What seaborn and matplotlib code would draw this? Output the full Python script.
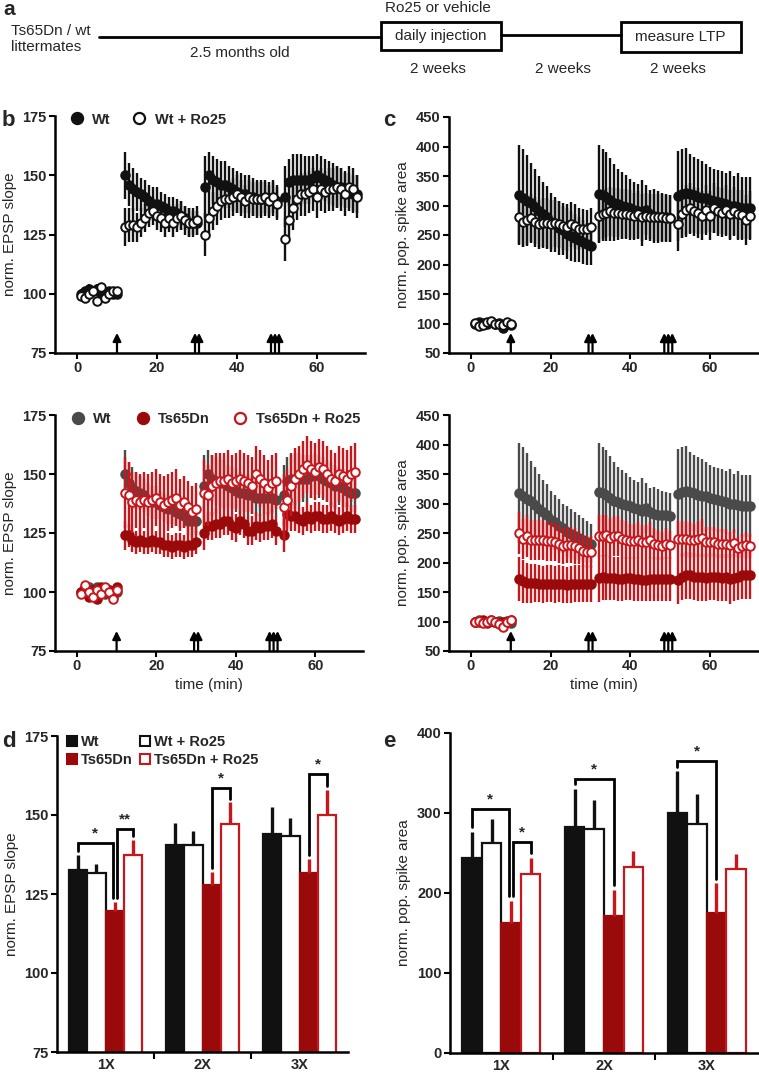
import numpy as np
import pandas as pd
import matplotlib
matplotlib.use("Agg")
import matplotlib.pyplot as plt
import seaborn as sns
from matplotlib.lines import Line2D
from matplotlib.patches import Patch, Rectangle

sns.set_theme(style="ticks")
plt.rcParams['font.family'] = ['Liberation Sans', 'DejaVu Sans']

# ---------------- data ----------------
t_base = list(range(1, 11))
t_post = list(range(12, 31)) + list(range(32, 51)) + list(range(52, 71))
time = t_base + t_post
arrow_times = [10, 29.5, 30.5, 48.5, 49.5, 50.5]

# EPSP slope (panel b)
epsp_wt = [100, 101, 102, 101, 102, 100, 99, 101, 100, 100,
           150, 146, 144, 143, 142, 141, 139, 138, 138, 137, 136, 135, 135, 134, 133, 132, 130, 130, 130,
           145, 150, 148, 147, 146, 146, 145, 144, 143, 142, 142, 141, 141, 140, 140, 140, 140, 140, 139,
           141, 147, 148, 148, 148, 148, 148, 149, 150, 149, 148, 147, 146, 145, 145, 144, 143, 142, 142]
epsp_wt_err = [2, 2, 2, 2, 2, 2, 2, 2, 2, 2,
               10, 9, 9, 8, 7, 7, 7, 7, 7, 6, 6, 6, 6, 6, 6, 5, 6, 5, 5,
               13, 10, 10, 10, 10, 10, 9, 9, 9, 9, 8, 9, 8, 8, 8, 7, 7, 7, 7,
               13, 10, 11, 11, 11, 10, 10, 9, 9, 9, 9, 9, 9, 9, 8, 8, 8, 8, 8]
epsp_wtro = [99, 98, 100, 101, 97, 103, 98, 100, 101, 101,
             128, 129, 129, 128, 130, 132, 134, 135, 133, 132, 130, 132, 130, 132, 133, 131, 130, 130, 131,
             125, 132, 135, 137, 139, 140, 140, 141, 142, 141, 139, 141, 140, 140, 140, 141, 139, 141, 138,
             123, 131, 136, 140, 142, 142, 143, 144, 141, 144, 143, 144, 144, 145, 144, 142, 145, 144, 141]
epsp_wtro_err = [1.5, 1.5, 1.5, 1.5, 1.5, 1.5, 1.5, 1.5, 1.5, 1.5,
                 8, 7, 7, 6, 6, 6, 6, 6, 6, 6, 6, 6, 6, 6, 6, 6, 6, 6, 6,
                 9, 8, 8, 8, 8, 8, 8, 8, 8, 7, 7, 7, 7, 7, 7, 7, 7, 7, 7,
                 9, 9, 9, 9, 9, 9, 9, 9, 9, 9, 9, 9, 9, 9, 9, 9, 9, 9, 9]
epsp_ts = [100, 102, 98, 101, 97, 102, 100, 101, 98, 102,
           124, 124, 122, 121, 122, 121, 121, 122, 121, 121, 120, 120, 119, 120, 120, 119, 120, 120, 121,
           125, 128, 128, 129, 129, 130, 130, 128, 127, 130, 129, 126, 126, 128, 127, 128, 128, 129, 126,
           124, 133, 132, 132, 131, 130, 132, 131, 132, 132, 131, 131, 132, 131, 130, 131, 132, 131, 131]
epsp_ts_err = [1.5, 1.5, 1.5, 1.5, 1.5, 1.5, 1.5, 1.5, 1.5, 1.5,
               6, 5, 5, 5, 5, 5, 5, 5, 5, 5, 5, 5, 5, 5, 5, 5, 5, 5, 5,
               7, 6, 6, 6, 6, 6, 6, 6, 6, 6, 6, 6, 6, 6, 6, 6, 6, 6, 6,
               7, 6, 6, 6, 6, 6, 6, 6, 6, 6, 6, 6, 6, 6, 6, 6, 6, 6, 6]
epsp_tsro = [99, 103, 100, 98, 101, 99, 102, 100, 97, 101,
             142, 141, 138, 139, 138, 139, 138, 139, 140, 138, 137, 138, 139, 140, 137, 138, 136, 134, 135,
             142, 141, 145, 146, 147, 147, 148, 146, 147, 148, 147, 146, 145, 150, 148, 146, 144, 146, 147,
             136, 139, 145, 148, 150, 152, 154, 152, 151, 153, 152, 150, 148, 147, 150, 149, 148, 150, 151]
epsp_tsro_err = [1.5, 1.5, 1.5, 1.5, 1.5, 1.5, 1.5, 1.5, 1.5, 1.5,
                 15, 14, 13, 12, 12, 12, 12, 12, 12, 12, 12, 12, 12, 12, 11, 11, 11, 11, 11,
                 14, 13, 13, 13, 12, 12, 12, 12, 12, 12, 12, 12, 12, 12, 12, 12, 12, 12, 12,
                 14, 13, 13, 13, 12, 12, 12, 12, 12, 12, 12, 12, 12, 12, 12, 12, 12, 12, 12]

# pop. spike area (panel c)
spike_wt = [100, 103, 101, 99, 102, 100, 101, 93, 100, 98,
            318, 313, 308, 305, 298, 290, 285, 280, 272, 268, 262, 258, 252, 248, 245, 242, 238, 235, 232,
            320, 318, 315, 310, 305, 302, 300, 298, 295, 292, 290, 288, 292, 285, 282, 280, 280, 280, 278,
            316, 320, 322, 320, 318, 315, 313, 312, 310, 308, 306, 305, 302, 300, 300, 298, 296, 296, 296]
spike_wt_err = [3, 3, 3, 3, 3, 3, 3, 3, 3, 3,
                85, 83, 77, 67, 64, 60, 55, 53, 50, 47, 46, 42, 43, 42, 40, 38, 37, 35, 33,
                82, 78, 75, 70, 65, 60, 56, 53, 50, 48, 46, 56, 42, 42, 46, 44, 42, 40, 40,
                77, 75, 76, 68, 65, 63, 62, 58, 55, 54, 54, 53, 53, 58, 50, 57, 52, 52, 52]
spike_wtro = [101, 95, 97, 102, 104, 100, 99, 98, 103, 99,
              280, 272, 275, 278, 272, 268, 270, 270, 268, 270, 268, 265, 263, 268, 265, 260, 260, 260, 263,
              282, 285, 288, 290, 288, 288, 286, 286, 284, 282, 285, 280, 282, 280, 280, 280, 280, 278, 278,
              268, 285, 292, 296, 290, 287, 283, 292, 283, 296, 290, 288, 292, 285, 290, 285, 284, 275, 283]
spike_wtro_err = [3, 3, 3, 3, 3, 3, 3, 3, 3, 3,
                  45, 42, 42, 42, 42, 42, 42, 42, 42, 40, 40, 40, 40, 38, 38, 36, 34, 32, 32,
                  45, 42, 42, 42, 42, 42, 42, 42, 42, 40, 40, 40, 40, 40, 40, 40, 40, 40, 40,
                  45, 40, 42, 42, 42, 42, 42, 42, 42, 42, 42, 42, 42, 42, 42, 42, 42, 42, 42]
spike_ts = [100, 99, 102, 98, 101, 100, 97, 99, 101, 103,
            172, 168, 166, 165, 165, 164, 163, 164, 164, 163, 164, 163, 162, 163, 164, 164, 164, 164, 164,
            173, 175, 174, 174, 173, 172, 172, 173, 173, 172, 172, 171, 171, 172, 172, 172, 172, 172, 172,
            170, 176, 178, 178, 176, 175, 175, 174, 176, 176, 175, 174, 175, 172, 174, 176, 178, 178, 178]
spike_ts_err = [3, 3, 3, 3, 3, 3, 3, 3, 3, 3,
                38, 36, 34, 33, 32, 31, 31, 31, 31, 31, 31, 31, 31, 31, 31, 31, 31, 31, 31,
                40, 38, 38, 37, 37, 37, 37, 37, 37, 37, 37, 37, 37, 37, 37, 37, 37, 37, 37,
                40, 40, 40, 40, 40, 40, 40, 40, 40, 40, 40, 40, 40, 42, 40, 40, 40, 40, 40]
spike_tsro = [99, 101, 98, 100, 103, 99, 96, 90, 100, 102,
              250, 240, 245, 238, 238, 238, 238, 236, 236, 235, 232, 228, 230, 230, 228, 225, 220, 218, 218,
              245, 245, 246, 242, 245, 245, 240, 238, 236, 236, 238, 235, 235, 238, 232, 230, 228, 232, 230,
              240, 240, 240, 238, 238, 240, 242, 235, 235, 235, 232, 232, 232, 230, 233, 225, 228, 230, 228]
spike_tsro_err = [3, 3, 3, 3, 3, 3, 3, 3, 3, 3,
                  36, 34, 35, 34, 34, 34, 34, 33, 33, 33, 32, 30, 30, 30, 30, 28, 27, 27, 27,
                  36, 35, 35, 34, 34, 34, 32, 32, 30, 30, 30, 28, 28, 30, 26, 25, 24, 26, 24,
                  30, 30, 30, 30, 28, 30, 32, 25, 25, 25, 24, 24, 24, 22, 24, 18, 20, 22, 20]

# summary bars (panels d, e)
groups = ['1X', '2X', '3X']
conditions = ['Wt', 'Wt + Ro25', 'Ts65Dn', 'Ts65Dn + Ro25']
bar_epsp = {'Wt': [132.5, 140.5, 144.0], 'Wt + Ro25': [131.5, 140.5, 143.5],
            'Ts65Dn': [119.5, 128.0, 131.5], 'Ts65Dn + Ro25': [137.5, 147.0, 150.0]}
bar_epsp_err = {'Wt': [5.0, 7.0, 8.5], 'Wt + Ro25': [3.0, 4.5, 5.5],
                'Ts65Dn': [3.0, 4.0, 4.5], 'Ts65Dn + Ro25': [4.5, 7.0, 8.0]}
bar_spike = {'Wt': [244, 283, 300], 'Wt + Ro25': [263, 280, 286],
             'Ts65Dn': [163, 171, 175], 'Ts65Dn + Ro25': [224, 232, 230]}
bar_spike_err = {'Wt': [32, 47, 52], 'Wt + Ro25': [30, 36, 38],
                 'Ts65Dn': [27, 33, 37], 'Ts65Dn + Ro25': [20, 20, 19]}
# significance: (group, cond A, cond B, bracket height, label)
sig_epsp = [(0, 'Wt', 'Ts65Dn', 141.0, '*'), (0, 'Ts65Dn', 'Ts65Dn + Ro25', 145.5, '**'),
            (1, 'Ts65Dn', 'Ts65Dn + Ro25', 158.5, '*'), (2, 'Ts65Dn', 'Ts65Dn + Ro25', 163.0, '*')]
sig_spike = [(0, 'Wt', 'Ts65Dn', 305, '*'), (0, 'Ts65Dn', 'Ts65Dn + Ro25', 264, '*'),
             (1, 'Wt', 'Ts65Dn', 342, '*'), (2, 'Wt', 'Ts65Dn', 365, '*')]

# ---------------- style ----------------
BLACK = '#111111'
GRAY = '#4a4a4a'
DRED = '#9a0a0a'
RED = '#c8161d'
TICK_FS = 10.5
LAB_FS = 11
LEG_FS = 10.5

W, H = 759, 1074
fig = plt.figure(figsize=(W / 100, H / 100), dpi=100)


def px_axes(l, t, r, b):
    return fig.add_axes([l / W, 1 - b / H, (r - l) / W, (b - t) / H])


def style_axes(ax):
    sns.despine(ax=ax)
    for s in ['left', 'bottom']:
        ax.spines[s].set_linewidth(1.8)
        ax.spines[s].set_color('black')
    ax.tick_params(axis='both', width=1.5, length=4, color='black', labelsize=TICK_FS, pad=2)
    for lab in ax.get_xticklabels() + ax.get_yticklabels():
        lab.set_fontweight('bold')


def draw_series(ax, y, e, face, edge, ecol, z):
    ax.errorbar(time, y, yerr=e, fmt='none', ecolor=ecol, elinewidth=1.7, capsize=0, zorder=z)
    sns.scatterplot(x=time, y=y, ax=ax, s=38, color=face, edgecolor=edge, linewidth=1.4,
                    zorder=z + 0.5, legend=False)


def draw_arrows(ax):
    for at in arrow_times:
        ax.annotate('', xy=(at, 0.085), xytext=(at, 0.0), xycoords=('data', 'axes fraction'),
                    textcoords=('data', 'axes fraction'),
                    arrowprops=dict(arrowstyle='-|>,head_length=0.4,head_width=0.2', lw=1.6,
                                    color='black', shrinkA=0, shrinkB=0), zorder=6)


def time_axes(ax, ylim, yticks, ylabel, xlabel=None):
    ax.set_xlim(-5.5, 72)
    ax.set_ylim(*ylim)
    ax.set_xticks([0, 20, 40, 60])
    ax.set_yticks(yticks)
    ax.set_ylabel(ylabel, fontsize=LAB_FS, labelpad=4)
    if xlabel:
        ax.set_xlabel(xlabel, fontsize=LAB_FS, labelpad=3)
    style_axes(ax)
    draw_arrows(ax)


def mk(face, edge):
    return Line2D([], [], ls='none', marker='o', markersize=8, markerfacecolor=face,
                  markeredgecolor=edge, markeredgewidth=1.6)


# ---------------- panel a (timeline) ----------------
axa = fig.add_axes([0, 0, 1, 1], zorder=-1)
axa.set_xlim(0, W)
axa.set_ylim(H, 0)
axa.axis('off')
axa.text(3, 0, 'a', fontsize=15, fontweight='bold', va='top', ha='left')
axa.text(11, 39, 'Ts65Dn / wt\nlittermates', fontsize=11, va='center', ha='left', linespacing=1.2)
axa.plot([99, 381], [37, 37], color='black', lw=2)
axa.plot([501, 621], [35, 35], color='black', lw=2)
axa.add_patch(Rectangle((381, 22), 120, 28, fill=False, lw=2, ec='black'))
axa.add_patch(Rectangle((621, 22), 120, 30, fill=False, lw=2, ec='black'))
axa.text(441, 36, 'daily injection', fontsize=11, ha='center', va='center')
axa.text(680, 37, 'measure LTP', fontsize=11, ha='center', va='center')
axa.text(438, 8, 'Ro25 or vehicle', fontsize=11, ha='center', va='center')
axa.text(240, 53, '2.5 months old', fontsize=11, ha='center', va='center')
for xx in [438, 563, 678]:
    axa.text(xx, 69, '2 weeks', fontsize=11, ha='center', va='center')
for lbl, x, y in [('b', 2, 110), ('c', 383, 110), ('d', 2, 731), ('e', 383, 731)]:
    axa.text(x, y, lbl, fontsize=16, fontweight='bold', va='top', ha='left')

# ---------------- panel b top ----------------
ax = px_axes(55, 116, 365, 353)
draw_series(ax, epsp_wt, epsp_wt_err, BLACK, BLACK, BLACK, 3)
draw_series(ax, epsp_wtro, epsp_wtro_err, 'white', BLACK, BLACK, 4)
time_axes(ax, (75, 175), [75, 100, 125, 150, 175], 'norm. EPSP slope')
ax.legend([mk(BLACK, BLACK), mk('white', BLACK)], ['Wt', 'Wt + Ro25'], ncol=2, frameon=False,
          loc='upper left', bbox_to_anchor=(-0.02, 1.07), handletextpad=0.05, columnspacing=1.0,
          prop={'size': LEG_FS, 'weight': 'bold'})

# ---------------- panel c top ----------------
ax = px_axes(449, 117, 758, 353)
draw_series(ax, spike_wt, spike_wt_err, BLACK, BLACK, BLACK, 3)
draw_series(ax, spike_wtro, spike_wtro_err, 'white', BLACK, BLACK, 4)
time_axes(ax, (50, 450), list(range(50, 451, 50)), 'norm. pop. spike area')

# ---------------- panel b bottom ----------------
ax = px_axes(55, 415, 363, 651)
draw_series(ax, epsp_wt, epsp_wt_err, GRAY, GRAY, GRAY, 3)
draw_series(ax, epsp_ts, epsp_ts_err, DRED, DRED, RED, 4)
draw_series(ax, epsp_tsro, epsp_tsro_err, 'white', RED, RED, 5)
time_axes(ax, (75, 175), [75, 100, 125, 150, 175], 'norm. EPSP slope', 'time (min)')
ax.legend([mk(GRAY, GRAY), mk(DRED, DRED), mk('white', RED)], ['Wt', 'Ts65Dn', 'Ts65Dn + Ro25'],
          ncol=3, frameon=False, loc='upper left', bbox_to_anchor=(-0.015, 1.07), handletextpad=0.05,
          columnspacing=1.1, prop={'size': LEG_FS, 'weight': 'bold'})

# ---------------- panel c bottom ----------------
ax = px_axes(449, 415, 758, 651)
draw_series(ax, spike_wt, spike_wt_err, GRAY, GRAY, GRAY, 3)
draw_series(ax, spike_ts, spike_ts_err, DRED, DRED, RED, 4)
draw_series(ax, spike_tsro, spike_tsro_err, 'white', RED, RED, 5)
time_axes(ax, (50, 450), list(range(50, 451, 50)), 'norm. pop. spike area', 'time (min)')

# ---------------- bar panels ----------------
face_map = {'Wt': BLACK, 'Wt + Ro25': 'white', 'Ts65Dn': DRED, 'Ts65Dn + Ro25': 'white'}
edge_map = {'Wt': BLACK, 'Wt + Ro25': BLACK, 'Ts65Dn': DRED, 'Ts65Dn + Ro25': RED}
err_map = {'Wt': BLACK, 'Wt + Ro25': BLACK, 'Ts65Dn': RED, 'Ts65Dn + Ro25': RED}


def bar_panel(ax, vals, errs, sigs, ylim, yticks, ylabel, gap):
    rows = []
    for c in conditions:
        for g, v, e in zip(groups, vals[c], errs[c]):
            rows.append({'group': g, 'cond': c, 'val': v, 'err': e})
    df = pd.DataFrame(rows)
    sns.barplot(data=df, x='group', y='val', hue='cond', order=groups, hue_order=conditions,
                palette=face_map, width=0.76, gap=0, errorbar=None, legend=False, ax=ax,
                linewidth=1.5, saturation=1)
    centers = {}
    for i, p in enumerate(ax.patches):
        c = conditions[i // len(groups)]
        gi = i % len(groups)
        p.set_facecolor(face_map[c])
        p.set_edgecolor(edge_map[c])
        p.set_linewidth(1.6)
        cx = p.get_x() + p.get_width() / 2
        centers[(gi, c)] = cx
        sub = df[(df.cond == c) & (df.group == groups[gi])].iloc[0]
        ax.errorbar([cx], [sub.val], yerr=[[0], [sub.err]], fmt='none', ecolor=err_map[c],
                    elinewidth=2.4, capsize=0, zorder=1)
    # significance brackets (legs nudged apart where two brackets share a bar)
    ts_left = {s[0] for s in sigs if s[1] == 'Ts65Dn'}
    ts_right = {s[0] for s in sigs if s[2] == 'Ts65Dn'}
    for gi, a, b, h, lab in sigs:
        xa, xb = centers[(gi, a)], centers[(gi, b)]
        if a == 'Ts65Dn' and gi in ts_right:
            xa += 0.022
        if b == 'Ts65Dn' and gi in ts_left:
            xb -= 0.022
        ta = df[(df.cond == a) & (df.group == groups[gi])].iloc[0]
        tb = df[(df.cond == b) & (df.group == groups[gi])].iloc[0]
        ya = ta.val + ta.err + gap
        yb = tb.val + tb.err + gap
        ax.plot([xa, xa, xb, xb], [ya, h, h, yb], color='black', lw=2, zorder=5,
                solid_joinstyle='miter')
        ax.annotate(lab, xy=((xa + xb) / 2, h), xytext=(0, 2), textcoords='offset points',
                    ha='center', va='bottom', fontsize=11, fontweight='bold')
    ax.set_xlim(-0.5, 2.5)
    ax.set_ylim(*ylim)
    ax.set_yticks(yticks)
    ax.set_xlabel('')
    ax.set_ylabel(ylabel, fontsize=LAB_FS, labelpad=4)
    style_axes(ax)
    ax.set_xticks([0, 1, 2])
    ax.set_xticklabels(groups, fontweight='bold', fontsize=TICK_FS)
    ax.tick_params(axis='x', length=0, pad=4)
    ax.set_xticks([0.5, 1.5], minor=True)
    ax.tick_params(axis='x', which='minor', length=5, width=1.5, color='black')


ax = px_axes(57, 736, 348, 1052)
bar_panel(ax, bar_epsp, bar_epsp_err, sig_epsp, (75, 175), [75, 100, 125, 150, 175],
          'norm. EPSP slope', 1.2)
hd = [Patch(fc=BLACK, ec=BLACK, lw=1.5), Patch(fc=DRED, ec=DRED, lw=1.5),
      Patch(fc='white', ec=BLACK, lw=1.5), Patch(fc='white', ec=RED, lw=1.5)]
ax.legend(hd, ['Wt', 'Ts65Dn', 'Wt + Ro25', 'Ts65Dn + Ro25'], ncol=2, frameon=False,
          loc='upper left', bbox_to_anchor=(-0.01, 1.045), handlelength=0.7, handleheight=0.7,
          handletextpad=0.25, columnspacing=0.5, labelspacing=0.3,
          prop={'size': LEG_FS, 'weight': 'bold'})

ax = px_axes(450, 733, 758, 1053)
bar_panel(ax, bar_spike, bar_spike_err, sig_spike, (0, 400), [0, 100, 200, 300, 400],
          'norm. pop. spike area', 6)

fig.savefig('out.png', dpi=100)
